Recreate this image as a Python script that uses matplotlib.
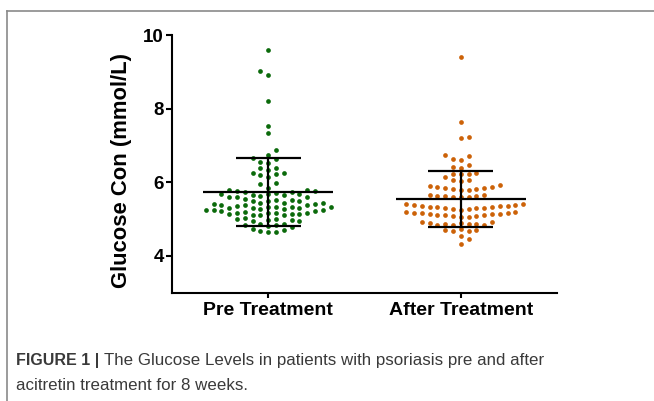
import numpy as np
import matplotlib
matplotlib.use("Agg")
import matplotlib.pyplot as plt
from matplotlib.lines import Line2D
from matplotlib import font_manager

# ---------------- data ----------------
categories = ["Pre Treatment", "After Treatment"]

pre_values = [
    9.59, 9.02, 8.91, 8.22, 7.52, 7.33, 6.87,
    6.74, 6.66, 6.64, 6.55, 6.53, 6.40, 6.38, 6.33, 6.25, 6.24, 6.23, 6.21,
    6.14, 5.98, 5.96, 5.85,
    5.79, 5.79, 5.77, 5.77, 5.73, 5.73,
    5.60, 5.61, 5.61, 5.64, 5.65, 5.65, 5.67, 5.67, 5.68, 5.70,
    5.38, 5.39, 5.39, 5.41, 5.41, 5.43, 5.45, 5.45, 5.48, 5.48, 5.50, 5.52,
    5.53, 5.55,
    5.20, 5.22, 5.23, 5.24, 5.25, 5.26, 5.27, 5.28, 5.29, 5.30, 5.31, 5.32,
    5.33, 5.34, 5.34, 5.35,
    5.10, 5.11, 5.12, 5.13, 5.14, 5.15, 5.16, 5.17, 5.18, 5.18,
    4.95, 4.96, 4.98, 4.99, 5.00, 5.01, 5.02,
    4.80, 4.82, 4.83, 4.85, 4.86, 4.87,
    4.72, 4.70, 4.69, 4.65, 4.65,
]

after_values = [
    9.40, 7.65, 7.24, 7.20,
    6.74, 6.72, 6.63, 6.61, 6.46, 6.42, 6.40,
    6.25, 6.23, 6.23, 6.22, 6.14,
    6.06, 6.05, 6.04,
    5.92, 5.90, 5.88, 5.86, 5.85, 5.84, 5.83, 5.82, 5.80, 5.78,
    5.66, 5.65, 5.64, 5.63, 5.62, 5.61, 5.60, 5.59,
    5.42, 5.40, 5.39, 5.38, 5.37, 5.36, 5.35, 5.34, 5.33, 5.32, 5.31, 5.30,
    5.29, 5.28, 5.27, 5.26,
    5.20, 5.19, 5.18, 5.17, 5.16, 5.15, 5.14, 5.13, 5.12, 5.11, 5.10, 5.09,
    5.08, 5.07, 5.06,
    4.92, 4.91, 4.90, 4.89, 4.88, 4.87, 4.86, 4.85, 4.84, 4.83,
    4.72, 4.71, 4.70, 4.69, 4.68,
    4.55, 4.46, 4.32,
]

mean_values = [5.735, 5.55]
sd_values = [0.915, 0.76]

y_ticks = [4, 6, 8, 10]
y_label = "Glucose Con (mmol/L)"
caption_bold = "FIGURE 1 | "
caption_line1 = "The Glucose Levels in patients with psoriasis pre and after"
caption_line2 = "acitretin treatment for 8 weeks."

# ---------------- style ----------------
colors = ["#0b6a0b", "#cc6208"]
names = {f.name for f in font_manager.fontManager.ttflist}
bold_font = "Liberation Sans" if "Liberation Sans" in names else "DejaVu Sans"
cap_font = "Liberation Sans Narrow" if "Liberation Sans Narrow" in names else bold_font
plt.rcParams["font.family"] = [bold_font, "DejaVu Sans"]

W, H = 654, 401
fig = plt.figure(figsize=(W / 100, H / 100), dpi=100)
ax = fig.add_axes([172 / W, (H - 292.8) / H, 385 / W, (292.8 - 35) / H])
ax.set_xlim(0.5, 2.5)
ax.set_ylim(3.0, 10.0)

# ---------------- swarm layout ----------------
col_px = 7.8      # horizontal column spacing in pixels
thr_px = 6.0      # min vertical distance within a column in pixels


def swarm(xc, vals):
    vals = np.asarray(vals, dtype=float)
    pts = ax.transData.transform(np.column_stack([np.full(len(vals), xc), vals]))
    ypx = pts[:, 1]
    order = np.argsort(vals, kind="stable")
    cols = {}
    offs = np.zeros(len(vals))
    toggle = 1
    for i in order:
        k = 0
        placed = False
        while not placed:
            cands = [0] if k == 0 else [toggle * k, -toggle * k]
            for c in cands:
                if all(abs(ypx[i] - yy) >= thr_px for yy in cols.get(c, [])):
                    cols.setdefault(c, []).append(ypx[i])
                    offs[i] = c
                    placed = True
                    if c != 0:
                        toggle = -toggle
                    break
            k += 1
    xs_px = pts[:, 0] + offs * col_px
    back = ax.transData.inverted().transform(np.column_stack([xs_px, ypx]))
    return back[:, 0], vals


for i, vals in enumerate([pre_values, after_values]):
    xs, ys = swarm(i + 1, vals)
    ax.plot(xs, ys, "o", ms=3.4, color=colors[i], mec="none", zorder=2)

# mean and SD bars
mean_hw = 0.337
cap_hw = 0.17
for i, (m, s) in enumerate(zip(mean_values, sd_values)):
    x = i + 1
    ax.hlines(m, x - mean_hw, x + mean_hw, color="black", lw=1.6, zorder=3)
    ax.hlines([m - s, m + s], x - cap_hw, x + cap_hw, color="black", lw=1.6, zorder=3)
    ax.vlines(x, m - s, m + s, color="black", lw=1.6, zorder=3)

# axes styling
for sp in ["top", "right"]:
    ax.spines[sp].set_visible(False)
for sp in ["left", "bottom"]:
    ax.spines[sp].set_linewidth(1.5)
ax.set_yticks(y_ticks)
ax.set_yticklabels([str(t) for t in y_ticks], fontsize=13.5, fontweight="bold")
ax.set_xticks([1, 2])
ax.set_xticklabels(categories, fontsize=14, fontweight="bold")
ax.tick_params(axis="y", direction="out", length=4.5, width=1.5, pad=1.5)
ax.tick_params(axis="x", direction="out", length=3.8, width=1.5, pad=3)

fig.text(122 / W, (H - 171) / H, y_label, rotation=90, ha="center", va="center",
         fontsize=15.8, fontweight="bold")

# caption
t1 = fig.text(16 / W, (H - 365) / H, caption_bold, fontsize=11.5, fontweight="bold",
              color="#3a3a3a", ha="left", va="baseline", family=[cap_font, "DejaVu Sans"])
fig.canvas.draw()
bb = t1.get_window_extent()
fig.text(bb.x1 / W, (H - 365) / H, caption_line1, fontsize=12.2, color="#3a3a3a",
         ha="left", va="baseline", family=[cap_font, "DejaVu Sans"])
fig.text(16 / W, (H - 390) / H, caption_line2, fontsize=12.2, color="#3a3a3a",
         ha="left", va="baseline", family=[cap_font, "DejaVu Sans"])

# frame
fig.add_artist(Line2D([7 / W, 1.0], [(H - 11) / H] * 2, color="#8a8a8a", lw=1.2,
                      transform=fig.transFigure))
fig.add_artist(Line2D([7 / W] * 2, [(H - 11) / H, 0.0], color="#8a8a8a", lw=1.2,
                      transform=fig.transFigure))

fig.savefig("out.png", dpi=100)
